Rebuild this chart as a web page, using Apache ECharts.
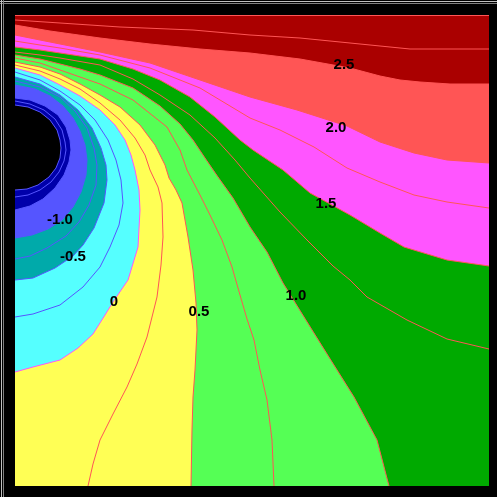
<!DOCTYPE html>
<html>
<head>
<meta charset="utf-8">
<script src="https://cdn.jsdelivr.net/npm/echarts@6/dist/echarts.min.js"></script>
<style>
  html, body { margin: 0; padding: 0; background: #000; }
  #chart { width: 497px; height: 497px; }
</style>
</head>
<body>
<div id="chart"></div>
<script>
// Contour polylines of the field, [distance, depth] pairs (depth grows downward).
const c275 = [[0,0.5],[4.5,0.8],[10.5,1.2],[17.8,1.5],[23.5,2.0],[28.5,2.3],[33.5,2.8],[36.5,3.1],[39.5,3.4],[47.4,3.4]];
const c250 = [[0,1.0],[3.5,1.6],[8.5,2.3],[13.5,2.9],[18.5,3.4],[23.5,3.8],[28.5,4.4],[33.5,5.3],[36.5,6.1],[38.5,6.5],[40.5,6.7],[43.5,6.9],[47.4,6.9]];
const c200 = [[0,2.0],[2.5,2.5],[4.5,2.9],[8.5,3.7],[13.5,4.8],[18.5,6.5],[23.5,8.2],[28.2,9.5],[33.2,11.1],[36.5,12.7],[39.9,13.8],[43.2,14.5],[47.4,14.8]];
const c175 = [[0,2.6],[2.5,3.0],[4.5,3.3],[8.5,4.0],[13.5,5.3],[18.5,7.3],[23.5,10.3],[26.5,11.5],[29.9,13.2],[33.2,15.3],[36.5,16.7],[39.9,18.0],[43.2,18.7],[47.4,19.3]];
const c150 = [[0,3.2],[2.5,3.5],[4.5,3.8],[8.5,4.4],[11.8,5.4],[14.5,6.5],[17.5,8.2],[20.0,10.2],[22.5,12.5],[23.8,13.5],[26.8,15.5],[29.5,17.8],[33.5,20.0],[36.5,21.8],[38.9,23.2],[43.2,24.5],[47.4,25.1]];
const c125 = [[0,3.7],[2.5,4.0],[4.5,4.3],[8.5,5.0],[11.8,6.4],[14.5,8.0],[17.5,10.0],[20.0,12.3],[22.0,14.5],[23.5,16.3],[26.5,19.7],[29.2,22.5],[31.8,25.1],[33.5,26.5],[35.2,28.2],[39.2,30.5],[43.2,32.4],[47.4,33.4]];
const c100 = [[0,4.0],[2.5,4.4],[4.5,4.9],[6.5,5.4],[8.5,6.0],[11.8,7.3],[14.5,9.1],[16.5,10.9],[17.8,12.5],[19.0,14.3],[20.3,16.2],[21.8,18.3],[23.5,21.2],[25.2,23.7],[26.8,26.8],[28.9,30.2],[31.2,33.9],[33.9,38.2],[36.2,42.5],[37.4,47.1]];
const c075 = [[0,4.3],[2.5,4.8],[4.5,5.5],[6.5,6.2],[8.5,6.9],[11.8,8.5],[15.2,11.2],[16.5,13.5],[17.2,15.5],[18.5,18.0],[19.5,20.0],[20.7,22.5],[21.7,25.2],[22.5,28.0],[23.2,30.4],[23.9,32.5],[24.5,35.5],[25.2,38.5],[25.7,42.5],[25.9,47.1]];
const c050 = [[0,4.7],[2.5,5.2],[4.5,5.9],[6.5,6.9],[8.5,8.0],[10.5,9.2],[12.5,11.0],[14.0,13.0],[15.0,15.0],[15.4,16.3],[16.1,17.5],[16.7,18.8],[17.3,22.2],[17.8,25.5],[18.1,28.8],[18.2,31.5],[18.0,35.5],[17.8,38.2],[17.7,41.5],[17.6,47.1]];
const c025 = [[0,5.0],[2.5,5.6],[4.5,6.4],[6.5,7.4],[8.5,8.8],[10.5,10.5],[12.0,12.3],[13.0,14.0],[13.5,15.5],[14.3,17.2],[14.7,18.8],[14.8,22.2],[14.6,25.0],[14.2,28.2],[13.2,32.2],[12.2,34.9],[11.2,37.2],[9.8,39.9],[8.5,42.5],[7.8,44.9],[7.3,47.1]];
const c000 = [[0,5.3],[2.5,6.0],[4.5,7.0],[6.5,8.1],[8.5,9.5],[10.0,11.0],[11.0,12.5],[11.6,14.0],[12.0,15.5],[12.4,17.5],[12.5,19.5],[12.3,23.2],[11.3,26.5],[9.8,28.7],[9.0,30.0],[7.8,31.9],[6.3,33.3],[4.5,34.5],[1.8,35.2],[0,35.7]];
const cm025 = [[0,5.7],[2.5,6.5],[4.5,7.6],[6.5,9.0],[8.0,10.5],[9.3,12.5],[10.1,14.5],[10.6,16.5],[10.8,18.8],[10.4,21.0],[9.5,23.2],[8.5,25.2],[6.8,27.2],[4.5,29.0],[1.8,29.9],[0,30.2]];
const cm050 = [[0,6.2],[2.5,6.9],[4.5,8.0],[6.3,9.5],[7.7,11.3],[8.6,13.3],[9.1,15.0],[9.2,16.5],[8.9,18.8],[7.9,21.3],[6.8,23.0],[5.8,24.1],[4.0,25.3],[1.8,26.3],[0,26.5]];
const cm075 = [[0,6.6],[2.5,7.2],[4.5,8.2],[6.0,9.6],[7.2,11.3],[7.9,13.3],[8.2,15.0],[8.1,17.0],[7.4,19.0],[6.4,20.7],[5.1,22.1],[3.2,23.3],[1.5,24.1],[0,24.4]];
const cm100 = [[0,7.0],[2.0,7.4],[3.5,8.1],[4.8,9.1],[5.8,10.3],[6.5,11.6],[7.0,13.0],[7.2,14.5],[7.1,16.0],[6.6,17.7],[5.8,19.2],[4.7,20.5],[3.3,21.4],[1.7,22.0],[0,22.3]];
const cm150 = [[0,8.3],[1.5,8.5],[3.0,9.1],[4.3,10.0],[5.1,11.2],[5.5,12.5],[5.6,13.5],[5.4,14.7],[4.9,16.0],[4.0,17.3],[2.8,18.4],[1.5,19.1],[0,19.5]];
const cm175 = [[0,8.6],[1.5,8.9],[2.9,9.5],[4.0,10.4],[4.7,11.5],[5.0,12.7],[5.1,13.5],[4.9,14.6],[4.4,15.7],[3.6,16.7],[2.5,17.5],[1.3,18.0],[0,18.2]];
const cm200 = [[0,9.0],[1.3,9.2],[2.5,9.7],[3.5,10.5],[4.2,11.5],[4.5,12.5],[4.6,13.3],[4.5,14.3],[4.1,15.3],[3.4,16.2],[2.3,17.0],[1.2,17.4],[0,17.5]];

const contourLevels = [2.75, 2.5, 2.0, 1.75, 1.5, 1.25, 1.0, 0.75, 0.5, 0.25, 0, -0.25, -0.5, -0.75, -1.0, -1.5, -1.75, -2.0];
const contourLines  = [c275, c250, c200, c175, c150, c125, c100, c075, c050, c025, c000, cm025, cm050, cm075, cm100, cm150, cm175, cm200];

// Filled band boundaries, highest first
const bandLevels = [2.5, 2.0, 1.5, 1.0, 0.5, 0, -0.5, -1.0, -1.5, -2.0];

// Inline contour labels
const labelText = ['2.5', '2.0', '1.5', '1.0', '0.5', '0', '-0.5', '-1.0'];
const labelX = [32.9, 32.1, 31.1, 28.1, 18.4, 9.9, 5.8, 4.5];
const labelY = [5.0, 11.3, 18.9, 28.1, 29.7, 28.7, 24.2, 20.5];

const X_MAX = 47.4, Y_MAX = 47.1;

// band fill colours: above the top level, then below each band level
const fillColors = ['#aa0000', '#ff5555', '#ff55ff', '#00aa00', '#55ff55', '#ffff55',
                    '#55ffff', '#00aaaa', '#5555ff', '#0000aa', '#000000'];

// Region below a level: the contour closed along the low side of the frame
function lowRegion(curve) {
  const pts = curve.slice();
  const end = curve[curve.length - 1];
  if (end[0] >= X_MAX) pts.push([X_MAX, Y_MAX], [0, Y_MAX]);
  else if (end[1] >= Y_MAX) pts.push([0, Y_MAX]);
  return pts;
}
const regions = [[[0, 0], [X_MAX, 0], [X_MAX, Y_MAX], [0, Y_MAX]]]
  .concat(bandLevels.map(L => lowRegion(contourLines[contourLevels.indexOf(L)])));

function lineColor(level) {
  if (level > 0) return '#ff5555';
  if (level === 0) return '#ff55ff';
  return '#5555ff';
}

const series = [{
  type: 'custom',
  coordinateSystem: 'cartesian2d',
  silent: true,
  z: 1,
  clip: true,
  data: regions.map((r, i) => [0, 0, i]),
  renderItem: (params, api) => {
    const i = params.dataIndex;
    return {
      type: 'polygon',
      shape: { points: regions[i].map(p => api.coord(p)) },
      style: { fill: fillColors[i], stroke: null }
    };
  }
}];

contourLevels.forEach((lv, k) => {
  series.push({
    type: 'line',
    data: contourLines[k],
    symbol: 'none',
    silent: true,
    clip: true,
    z: 3,
    lineStyle: { width: 1, color: lineColor(lv) }
  });
});

series.push({
  type: 'custom',
  coordinateSystem: 'cartesian2d',
  silent: true,
  z: 5,
  data: labelText.map((t, i) => [labelX[i], labelY[i], i]),
  renderItem: (params, api) => {
    const p = api.coord([api.value(0), api.value(1)]);
    return {
      type: 'text',
      x: p[0], y: p[1],
      style: {
        text: labelText[params.dataIndex],
        fill: '#000',
        font: 'bold 15px "Liberation Sans", Arial, sans-serif',
        align: 'center',
        verticalAlign: 'middle'
      }
    };
  }
});

const chart = echarts.init(document.getElementById('chart'), null, { renderer: 'canvas' });
chart.setOption({
  animation: false,
  backgroundColor: '#000',
  grid: { left: 15, top: 15, width: 474, height: 471, show: false },
  xAxis: { type: 'value', min: 0, max: X_MAX, show: false },
  yAxis: { type: 'value', min: 0, max: Y_MAX, inverse: true, show: false },
  graphic: [
    { type: 'line', shape: { x1: 0, y1: 1.5, x2: 497, y2: 1.5 }, style: { stroke: '#c0c0c0', lineWidth: 1 }, silent: true },
    { type: 'line', shape: { x1: 0, y1: 3.5, x2: 497, y2: 3.5 }, style: { stroke: '#808080', lineWidth: 1 }, silent: true },
    { type: 'line', shape: { x1: 1.5, y1: 0, x2: 1.5, y2: 497 }, style: { stroke: '#c0c0c0', lineWidth: 1 }, silent: true },
    { type: 'line', shape: { x1: 3.5, y1: 0, x2: 3.5, y2: 497 }, style: { stroke: '#808080', lineWidth: 1 }, silent: true },
    { type: 'line', shape: { x1: 15, y1: 15.5, x2: 489, y2: 15.5 }, style: { stroke: '#ff5555', lineWidth: 1 }, silent: true, z: 10 }
  ],
  series: series
});
</script>
</body>
</html>
